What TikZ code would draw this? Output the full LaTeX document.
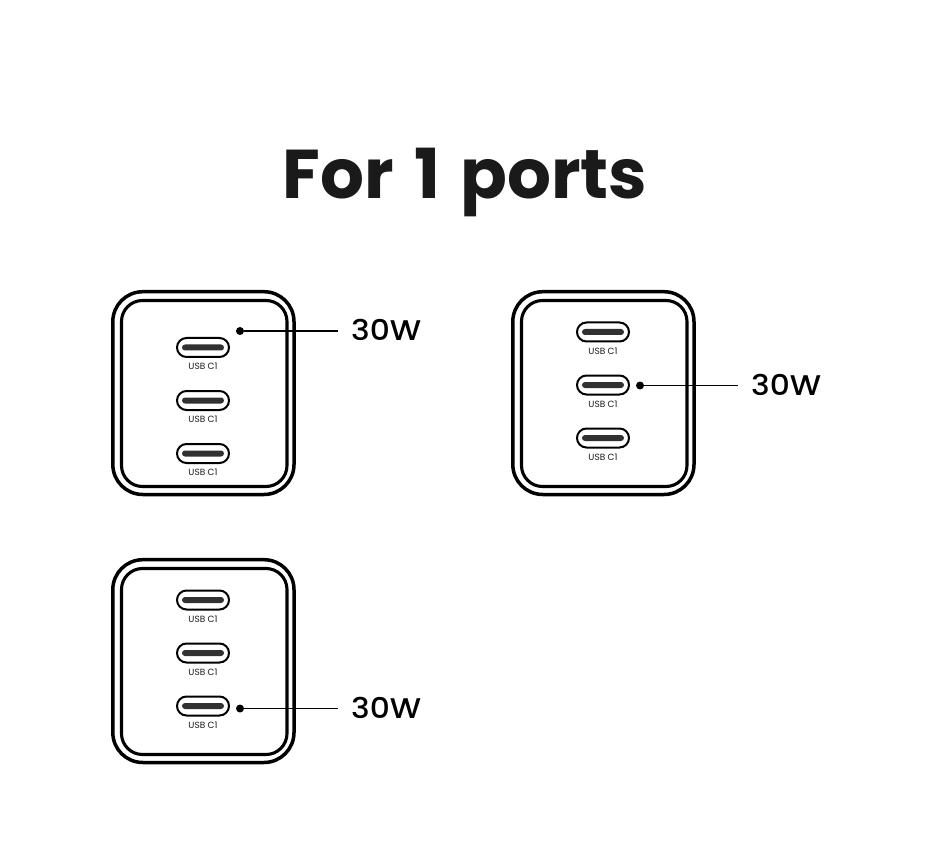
\documentclass[tikz,border=0pt]{standalone}
\usepackage{fontspec}
\setmainfont{Poppins}
\newfontfamily\wattfont[FakeStretch=1.1]{Poppins Medium}
\newfontfamily\headfont[WordSpace=1.4]{Poppins Bold}
\definecolor{ink}{HTML}{1A1A1A}
\tikzset{
  x=1pt,y=-1pt,
  outerbody/.style={draw=black,line width=3.5pt,rounded corners=30pt,fill=white},
  innerbody/.style={draw=black,line width=3.1pt,rounded corners=21pt},
  portshell/.style={draw=black,line width=2pt,rounded corners=9.5pt,fill=white,minimum width=52pt,minimum height=19pt,inner sep=0pt},
  portslot/.style={fill=ink!90!white,rounded corners=3pt,minimum width=42pt,minimum height=6pt,inner sep=0pt},
  portlabel/.style={font=\fontsize{9}{9}\selectfont,text=ink,inner sep=0pt},
  dotmark/.style={circle,fill=black,minimum size=8pt,inner sep=0pt},
  leader/.style={draw=black,line width=1.5pt},
  watt/.style={font=\wattfont\fontsize{28.5}{28}\selectfont,text=black,inner sep=0pt,anchor=west},
  titletext/.style={font=\headfont\fontsize{69}{69}\selectfont,text=ink,inner sep=0pt}
}
\newcommand{\chargerunit}[3]{% name, x offset, y offset (of body top-left)
  \begin{scope}[shift={(#2,#3)}]
    \draw[outerbody] (-0.2,-0.3) rectangle (181,202.5);
    \draw[innerbody] (8.5,8.5) rectangle (174,194.5);
  \end{scope}
}
\newcommand{\portunit}[3]{% name, centre x, centre y
  \node[portshell] (#1) at (#2,#3) {};
  \node[portslot] (#1s) at (#2,#3) {};
  \node[portlabel] (#1l) at (#2,#3+19) {USB C1};
}
\begin{document}
\begin{tikzpicture}
\useasboundingbox (0,0) rectangle (930,845);
\fill[white] (0,0) rectangle (930,845);
\node[titletext] (title) at (465,182) {For 1 ports};

% top left
\chargerunit{a}{113}{292}
\portunit{a1}{203}{347.5}
\portunit{a2}{203}{400.5}
\portunit{a3}{203}{453.5}
\node[dotmark] (ad) at (240,331) {};
\coordinate (ae) at (338,331);
\node[watt] (aw) at (351,330) {30W};
\draw[leader] (ad) -- (ae);

% top right
\chargerunit{b}{513}{292}
\portunit{b1}{603}{332}
\portunit{b2}{603}{385}
\portunit{b3}{603}{438}
\node[dotmark] (bd) at (640,385.5) {};
\coordinate (be) at (738,385.5);
\node[watt] (bw) at (751,384.5) {30W};
\draw[leader] (bd) -- (be);

% bottom left
\chargerunit{c}{113}{560}
\portunit{c1}{203}{600}
\portunit{c2}{203}{653}
\portunit{c3}{203}{706}
\node[dotmark] (cd) at (240,708.5) {};
\coordinate (ce) at (338,708.5);
\node[watt] (cw) at (351,707.5) {30W};
\draw[leader] (cd) -- (ce);
\end{tikzpicture}
\end{document}
